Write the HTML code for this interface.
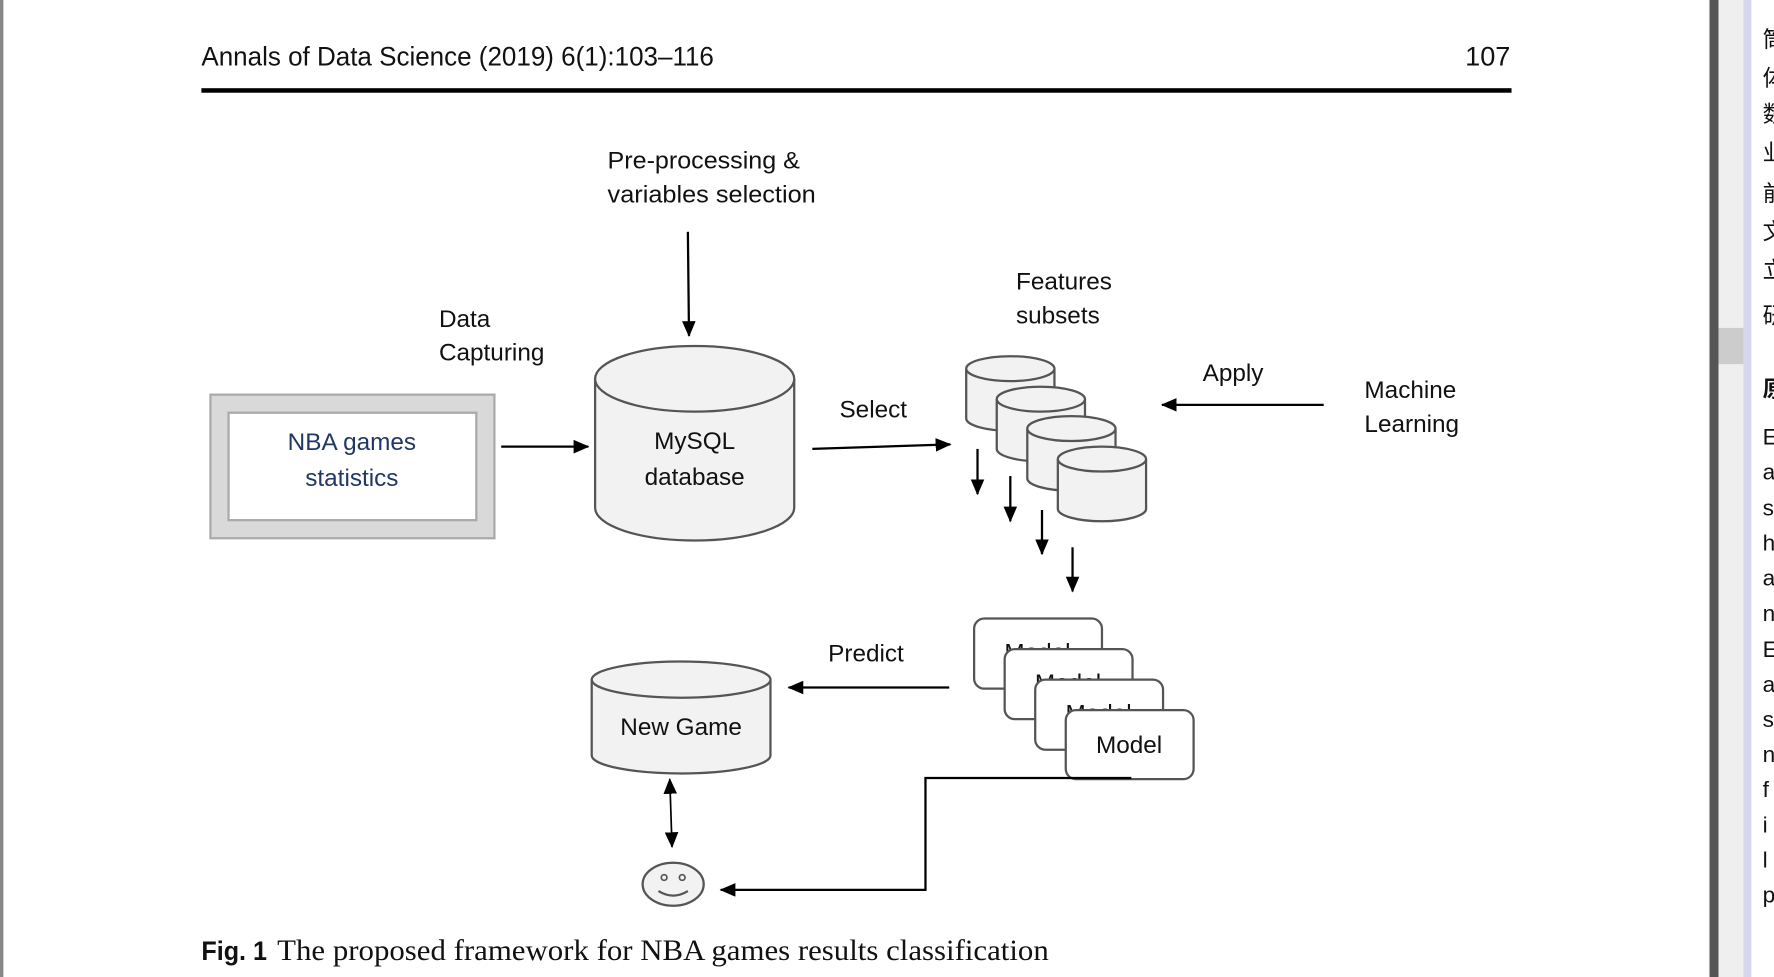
<!DOCTYPE html>
<html><head><meta charset="utf-8"><style>
html,body{margin:0;padding:0;background:#fff;width:1774px;height:977px;overflow:hidden}
svg{display:block}
text{font-family:"Liberation Sans","Noto Sans CJK SC",sans-serif;fill:#111}
</style></head><body>
<svg width="1774" height="977" viewBox="0 0 1568 864" preserveAspectRatio="none" xmlns="http://www.w3.org/2000/svg">
<defs>
<marker id="ah" markerWidth="14" markerHeight="12" refX="13" refY="6" orient="auto" markerUnits="userSpaceOnUse"><path d="M0,0 L14,6 L0,12 z" fill="#000"/></marker>
<marker id="as" markerWidth="14" markerHeight="12" refX="1" refY="6" orient="auto" markerUnits="userSpaceOnUse"><path d="M14,0 L0,6 L14,12 z" fill="#000"/></marker>
</defs>
<rect x="0" y="0" width="3" height="864" fill="#888"/>
<text x="178" y="58" font-size="24" textLength="453" lengthAdjust="spacingAndGlyphs">Annals of Data Science (2019) 6(1):103–116</text>
<text x="1335" y="58" font-size="24" text-anchor="end">107</text>
<rect x="178" y="78" width="1158" height="4" fill="#000"/>

<!-- NBA box -->
<rect x="186" y="349" width="251" height="127" fill="#d9d9d9" stroke="#aaa" stroke-width="2"/>
<rect x="202" y="365" width="219" height="95" fill="#fff" stroke="#aaa" stroke-width="2"/>
<text x="311" y="398" font-size="21.5" text-anchor="middle" style="fill:#1f3864">NBA games</text>
<text x="311" y="430" font-size="21.5" text-anchor="middle" style="fill:#1f3864">statistics</text>
<text x="388" y="289" font-size="21.5">Data</text>
<text x="388" y="319" font-size="21.5">Capturing</text>
<line x1="443" y1="395" x2="520" y2="395" stroke="#000" stroke-width="2" marker-end="url(#ah)"/>

<!-- MySQL -->
<path d="M526,335 L526,449 A88,29 0 0 0 702,449 L702,335" fill="#f2f2f2" stroke="#555" stroke-width="2"/>
<ellipse cx="614" cy="335" rx="88" ry="29" fill="#f2f2f2" stroke="#555" stroke-width="2"/>
<text x="614" y="397" font-size="21.5" text-anchor="middle">MySQL</text>
<text x="614" y="429" font-size="21.5" text-anchor="middle">database</text>
<text x="537" y="149" font-size="21.5" textLength="170" lengthAdjust="spacingAndGlyphs">Pre-processing &amp;</text>
<text x="537" y="179" font-size="21.5" textLength="184" lengthAdjust="spacingAndGlyphs">variables selection</text>
<line x1="608" y1="205" x2="609" y2="297" stroke="#000" stroke-width="2" marker-end="url(#ah)"/>

<text x="742" y="369" font-size="21.5">Select</text>
<line x1="718" y1="397" x2="840" y2="393" stroke="#000" stroke-width="2" marker-end="url(#ah)"/>
<text x="898" y="256" font-size="21.5">Features</text>
<text x="898" y="286" font-size="21.5">subsets</text>

<!-- small cylinders -->
<g stroke="#555" stroke-width="2" fill="#f2f2f2">
<path d="M854,326 L854,370 A39,11 0 0 0 932,370 L932,326"/><ellipse cx="893" cy="326" rx="39" ry="11"/>
<path d="M881,353 L881,397 A39,11 0 0 0 959,397 L959,353"/><ellipse cx="920" cy="353" rx="39" ry="11"/>
<path d="M908,379 L908,423 A39,11 0 0 0 986,423 L986,379"/><ellipse cx="947" cy="379" rx="39" ry="11"/>
<path d="M935,406 L935,450 A39,11 0 0 0 1013,450 L1013,406"/><ellipse cx="974" cy="406" rx="39" ry="11"/>
</g>
<g stroke="#000" stroke-width="2">
<line x1="864" y1="397" x2="864" y2="437" marker-end="url(#ah)"/>
<line x1="893" y1="421" x2="893" y2="461" marker-end="url(#ah)"/>
<line x1="921" y1="451" x2="921" y2="490" marker-end="url(#ah)"/>
<line x1="948" y1="484" x2="948" y2="523" marker-end="url(#ah)"/>
<line x1="1170" y1="358" x2="1027" y2="358" marker-end="url(#ah)"/>
<line x1="839" y1="608" x2="697" y2="608" marker-end="url(#ah)"/>
</g>
<text x="1063" y="337" font-size="21.5">Apply</text>
<text x="1206" y="352" font-size="21.5">Machine</text>
<text x="1206" y="382" font-size="21.5">Learning</text>

<!-- Models -->
<g stroke="#555" stroke-width="2" fill="#fff">
<rect x="861" y="547" width="113" height="62" rx="9"/><text x="917" y="584" font-size="21.5" text-anchor="middle" stroke="none">Model</text>
<rect x="888" y="574" width="113" height="62" rx="9"/><text x="944" y="611" font-size="21.5" text-anchor="middle" stroke="none">Model</text>
<rect x="915" y="601" width="113" height="62" rx="9"/><text x="971" y="638" font-size="21.5" text-anchor="middle" stroke="none">Model</text>
<rect x="942" y="628" width="113" height="61" rx="9"/><text x="998" y="666" font-size="21.5" text-anchor="middle" stroke="none">Model</text>
</g>
<text x="732" y="585" font-size="21.5">Predict</text>

<!-- New Game -->
<path d="M523,601 L523,668 A79,16 0 0 0 681,668 L681,601" fill="#f2f2f2" stroke="#555" stroke-width="2"/>
<ellipse cx="602" cy="601" rx="79" ry="16" fill="#f2f2f2" stroke="#555" stroke-width="2"/>
<text x="602" y="650" font-size="21.5" text-anchor="middle">New Game</text>
<line x1="592" y1="689" x2="594" y2="749" stroke="#000" stroke-width="1.5" marker-start="url(#as)" marker-end="url(#ah)"/>

<!-- smiley -->
<ellipse cx="595" cy="782" rx="27" ry="19" fill="#f2f2f2" stroke="#555" stroke-width="2"/>
<circle cx="587" cy="776" r="2.5" fill="none" stroke="#555" stroke-width="1.5"/>
<circle cx="603" cy="776" r="2.5" fill="none" stroke="#555" stroke-width="1.5"/>
<path d="M582,788 Q595,796 608,788" fill="none" stroke="#555" stroke-width="2"/>
<polyline points="1000,688 818,688 818,787 637,787" fill="none" stroke="#000" stroke-width="2" marker-end="url(#ah)"/>

<text x="178" y="849" font-size="24" font-weight="bold" textLength="58" lengthAdjust="spacingAndGlyphs">Fig. 1</text>
<text x="245" y="849" font-size="26" style="font-family:'Liberation Serif',serif" textLength="682" lengthAdjust="spacingAndGlyphs">The proposed framework for NBA games results classification</text>

<!-- right panel -->
<rect x="1511" y="0" width="8" height="864" fill="#555"/>
<rect x="1519" y="0" width="22" height="864" fill="#efefef"/>
<rect x="1519" y="290" width="22" height="32" fill="#ccc"/>
<rect x="1541" y="0" width="7" height="864" fill="#d4d8ea"/>
<g font-size="20">
<text x="1558" y="42">筒</text><text x="1558" y="76">体</text><text x="1558" y="108">数</text>
<text x="1558" y="142">业</text><text x="1558" y="178">前</text><text x="1558" y="212">文</text>
<text x="1558" y="246">立</text><text x="1558" y="286">研</text>
<text x="1558" y="351" font-weight="bold">原</text>
<text x="1558" y="393">E</text><text x="1558" y="424">a</text><text x="1558" y="456">s</text>
<text x="1558" y="487">h</text><text x="1558" y="518">a</text><text x="1558" y="549">n</text>
<text x="1558" y="581">E</text><text x="1558" y="612">a</text><text x="1558" y="643">s</text>
<text x="1558" y="674">n</text><text x="1558" y="705">f</text><text x="1558" y="736">i</text>
<text x="1558" y="767">l</text><text x="1558" y="798">p</text>
</g>
</svg>
</body></html>
